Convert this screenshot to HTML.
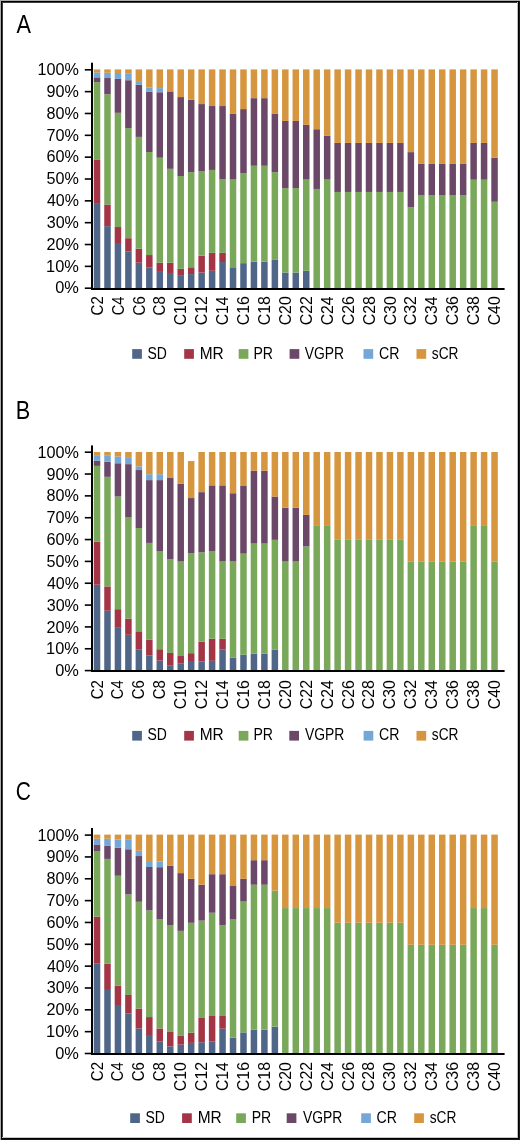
<!DOCTYPE html>
<html><head><meta charset="utf-8"><title>Response by cycle</title>
<style>
html,body{margin:0;padding:0;background:#fff;}
body{width:520px;height:1140px;overflow:hidden;position:relative;}
svg{display:block;position:absolute;left:0;top:0;will-change:transform;}
text{font-family:"Liberation Sans", sans-serif;fill:#000;}
.yl{font-size:17px;}
.xl{font-size:16.8px;}
.lg{font-size:16px;}
.pl{font-size:25.2px;}
</style></head><body>
<svg width="520" height="1140" viewBox="0 0 520 1140">
<rect x="0" y="0" width="520" height="1140" fill="#fff"/>
<rect x="0" y="0" width="520" height="1" fill="#acacac"/>
<rect x="0" y="0" width="1" height="1140" fill="#acacac"/>
<rect x="2" y="2" width="515" height="1" fill="#3c3c3c"/>
<rect x="2" y="2" width="1" height="1135" fill="#3c3c3c"/>
<rect x="517" y="2" width="1" height="1136" fill="#bebebe"/>
<rect x="2" y="1137" width="516" height="1" fill="#c8c8c8"/>
<rect x="1" y="1" width="519" height="1" fill="#000"/>
<rect x="1" y="1" width="1" height="1139" fill="#000"/>
<rect x="518" y="1" width="1" height="1138" fill="#000"/>
<rect x="519" y="1" width="1" height="1139" fill="#1a1a1a"/>
<rect x="1" y="1138" width="518" height="1" fill="#000"/>
<rect x="1" y="1139" width="518" height="1" fill="#161616"/>
<text x="16.49" y="33.1" class="pl" textLength="14.46" lengthAdjust="spacingAndGlyphs">A</text>
<text x="15.67" y="418.7" class="pl" textLength="14.46" lengthAdjust="spacingAndGlyphs">B</text>
<text x="15.86" y="800.1" class="pl" textLength="15.13" lengthAdjust="spacingAndGlyphs">C</text>
<rect x="93.78" y="203.84" width="6.5" height="86.16" fill="#4f6689"/>
<rect x="93.78" y="159.43" width="6.5" height="44.42" fill="#a33546"/>
<rect x="93.78" y="82.19" width="6.5" height="77.24" fill="#79a85b"/>
<rect x="93.78" y="77.38" width="6.5" height="4.81" fill="#6b4868"/>
<rect x="93.78" y="72.34" width="6.5" height="5.03" fill="#74a7d6"/>
<rect x="93.78" y="69.4" width="6.5" height="2.94" fill="#d6963f"/>
<rect x="104.24" y="226.16" width="6.5" height="63.84" fill="#4f6689"/>
<rect x="104.24" y="204.5" width="6.5" height="21.66" fill="#a33546"/>
<rect x="104.24" y="94.22" width="6.5" height="110.28" fill="#79a85b"/>
<rect x="104.24" y="78.03" width="6.5" height="16.19" fill="#6b4868"/>
<rect x="104.24" y="72.78" width="6.5" height="5.25" fill="#74a7d6"/>
<rect x="104.24" y="69.4" width="6.5" height="3.38" fill="#d6963f"/>
<rect x="114.7" y="243.01" width="6.5" height="46.99" fill="#4f6689"/>
<rect x="114.7" y="227.04" width="6.5" height="15.97" fill="#a33546"/>
<rect x="114.7" y="112.82" width="6.5" height="114.21" fill="#79a85b"/>
<rect x="114.7" y="78.91" width="6.5" height="33.91" fill="#6b4868"/>
<rect x="114.7" y="73" width="6.5" height="5.91" fill="#74a7d6"/>
<rect x="114.7" y="69.4" width="6.5" height="3.6" fill="#d6963f"/>
<rect x="125.16" y="251.32" width="6.5" height="38.68" fill="#4f6689"/>
<rect x="125.16" y="238.19" width="6.5" height="13.13" fill="#a33546"/>
<rect x="125.16" y="128.14" width="6.5" height="110.06" fill="#79a85b"/>
<rect x="125.16" y="80.22" width="6.5" height="47.92" fill="#6b4868"/>
<rect x="125.16" y="73.22" width="6.5" height="7" fill="#74a7d6"/>
<rect x="125.16" y="69.4" width="6.5" height="3.82" fill="#d6963f"/>
<rect x="135.62" y="262.7" width="6.5" height="27.3" fill="#4f6689"/>
<rect x="135.62" y="248.7" width="6.5" height="14" fill="#a33546"/>
<rect x="135.62" y="136.89" width="6.5" height="111.81" fill="#79a85b"/>
<rect x="135.62" y="84.82" width="6.5" height="52.07" fill="#6b4868"/>
<rect x="135.62" y="81.1" width="6.5" height="3.72" fill="#74a7d6"/>
<rect x="135.62" y="69.4" width="6.5" height="11.7" fill="#d6963f"/>
<rect x="146.08" y="267.3" width="6.5" height="22.7" fill="#4f6689"/>
<rect x="146.08" y="255.04" width="6.5" height="12.25" fill="#a33546"/>
<rect x="146.08" y="151.99" width="6.5" height="103.05" fill="#79a85b"/>
<rect x="146.08" y="91.82" width="6.5" height="60.17" fill="#6b4868"/>
<rect x="146.08" y="87.44" width="6.5" height="4.38" fill="#74a7d6"/>
<rect x="146.08" y="69.4" width="6.5" height="18.04" fill="#d6963f"/>
<rect x="156.54" y="271.89" width="6.5" height="18.11" fill="#4f6689"/>
<rect x="156.54" y="262.7" width="6.5" height="9.19" fill="#a33546"/>
<rect x="156.54" y="157.68" width="6.5" height="105.02" fill="#79a85b"/>
<rect x="156.54" y="92.26" width="6.5" height="65.42" fill="#6b4868"/>
<rect x="156.54" y="88.1" width="6.5" height="4.16" fill="#74a7d6"/>
<rect x="156.54" y="69.4" width="6.5" height="18.7" fill="#d6963f"/>
<rect x="167.01" y="272.98" width="6.5" height="17.02" fill="#4f6689"/>
<rect x="167.01" y="262.7" width="6.5" height="10.28" fill="#a33546"/>
<rect x="167.01" y="168.84" width="6.5" height="93.87" fill="#79a85b"/>
<rect x="167.01" y="91.38" width="6.5" height="77.46" fill="#6b4868"/>
<rect x="167.01" y="69.4" width="6.5" height="21.98" fill="#d6963f"/>
<rect x="177.47" y="275.83" width="6.5" height="14.17" fill="#4f6689"/>
<rect x="177.47" y="268.83" width="6.5" height="7" fill="#a33546"/>
<rect x="177.47" y="176.06" width="6.5" height="92.77" fill="#79a85b"/>
<rect x="177.47" y="97.07" width="6.5" height="78.99" fill="#6b4868"/>
<rect x="177.47" y="69.4" width="6.5" height="27.67" fill="#d6963f"/>
<rect x="187.93" y="274.08" width="6.5" height="15.92" fill="#4f6689"/>
<rect x="187.93" y="267.3" width="6.5" height="6.78" fill="#a33546"/>
<rect x="187.93" y="172.12" width="6.5" height="95.18" fill="#79a85b"/>
<rect x="187.93" y="99.69" width="6.5" height="72.42" fill="#6b4868"/>
<rect x="187.93" y="69.4" width="6.5" height="30.29" fill="#d6963f"/>
<rect x="198.39" y="272.55" width="6.5" height="17.45" fill="#4f6689"/>
<rect x="198.39" y="255.7" width="6.5" height="16.85" fill="#a33546"/>
<rect x="198.39" y="171.02" width="6.5" height="84.68" fill="#79a85b"/>
<rect x="198.39" y="104.07" width="6.5" height="66.95" fill="#6b4868"/>
<rect x="198.39" y="69.4" width="6.5" height="34.67" fill="#d6963f"/>
<rect x="208.85" y="270.8" width="6.5" height="19.2" fill="#4f6689"/>
<rect x="208.85" y="252.85" width="6.5" height="17.94" fill="#a33546"/>
<rect x="208.85" y="169.93" width="6.5" height="82.93" fill="#79a85b"/>
<rect x="208.85" y="106.04" width="6.5" height="63.89" fill="#6b4868"/>
<rect x="208.85" y="69.4" width="6.5" height="36.64" fill="#d6963f"/>
<rect x="219.31" y="262.04" width="6.5" height="27.96" fill="#4f6689"/>
<rect x="219.31" y="252.85" width="6.5" height="9.19" fill="#a33546"/>
<rect x="219.31" y="179.34" width="6.5" height="73.52" fill="#79a85b"/>
<rect x="219.31" y="106.04" width="6.5" height="73.3" fill="#6b4868"/>
<rect x="219.31" y="69.4" width="6.5" height="36.64" fill="#d6963f"/>
<rect x="229.77" y="267.3" width="6.5" height="22.7" fill="#4f6689"/>
<rect x="229.77" y="179.56" width="6.5" height="87.74" fill="#79a85b"/>
<rect x="229.77" y="113.92" width="6.5" height="65.64" fill="#6b4868"/>
<rect x="229.77" y="69.4" width="6.5" height="44.52" fill="#d6963f"/>
<rect x="240.23" y="263.14" width="6.5" height="26.86" fill="#4f6689"/>
<rect x="240.23" y="173.21" width="6.5" height="89.93" fill="#79a85b"/>
<rect x="240.23" y="109.1" width="6.5" height="64.11" fill="#6b4868"/>
<rect x="240.23" y="69.4" width="6.5" height="39.7" fill="#d6963f"/>
<rect x="250.69" y="261.61" width="6.5" height="28.39" fill="#4f6689"/>
<rect x="250.69" y="165.77" width="6.5" height="95.83" fill="#79a85b"/>
<rect x="250.69" y="98.16" width="6.5" height="67.61" fill="#6b4868"/>
<rect x="250.69" y="69.4" width="6.5" height="28.76" fill="#d6963f"/>
<rect x="261.15" y="261.61" width="6.5" height="28.39" fill="#4f6689"/>
<rect x="261.15" y="165.77" width="6.5" height="95.83" fill="#79a85b"/>
<rect x="261.15" y="98.16" width="6.5" height="67.61" fill="#6b4868"/>
<rect x="261.15" y="69.4" width="6.5" height="28.76" fill="#d6963f"/>
<rect x="271.61" y="259.86" width="6.5" height="30.14" fill="#4f6689"/>
<rect x="271.61" y="172.12" width="6.5" height="87.74" fill="#79a85b"/>
<rect x="271.61" y="113.92" width="6.5" height="58.2" fill="#6b4868"/>
<rect x="271.61" y="69.4" width="6.5" height="44.52" fill="#d6963f"/>
<rect x="282.07" y="272.55" width="6.5" height="17.45" fill="#4f6689"/>
<rect x="282.07" y="188.09" width="6.5" height="84.46" fill="#79a85b"/>
<rect x="282.07" y="120.92" width="6.5" height="67.17" fill="#6b4868"/>
<rect x="282.07" y="69.4" width="6.5" height="51.52" fill="#d6963f"/>
<rect x="292.54" y="272.55" width="6.5" height="17.45" fill="#4f6689"/>
<rect x="292.54" y="188.09" width="6.5" height="84.46" fill="#79a85b"/>
<rect x="292.54" y="120.92" width="6.5" height="67.17" fill="#6b4868"/>
<rect x="292.54" y="69.4" width="6.5" height="51.52" fill="#d6963f"/>
<rect x="303" y="270.8" width="6.5" height="19.2" fill="#4f6689"/>
<rect x="303" y="179.56" width="6.5" height="91.24" fill="#79a85b"/>
<rect x="303" y="124.86" width="6.5" height="54.7" fill="#6b4868"/>
<rect x="303" y="69.4" width="6.5" height="55.46" fill="#d6963f"/>
<rect x="313.46" y="188.96" width="6.5" height="101.04" fill="#79a85b"/>
<rect x="313.46" y="129.23" width="6.5" height="59.73" fill="#6b4868"/>
<rect x="313.46" y="69.4" width="6.5" height="59.83" fill="#d6963f"/>
<rect x="323.92" y="179.56" width="6.5" height="110.44" fill="#79a85b"/>
<rect x="323.92" y="135.58" width="6.5" height="43.98" fill="#6b4868"/>
<rect x="323.92" y="69.4" width="6.5" height="66.18" fill="#d6963f"/>
<rect x="334.38" y="191.96" width="6.5" height="98.04" fill="#79a85b"/>
<rect x="334.38" y="142.93" width="6.5" height="49.02" fill="#6b4868"/>
<rect x="334.38" y="69.4" width="6.5" height="73.53" fill="#d6963f"/>
<rect x="344.84" y="191.96" width="6.5" height="98.04" fill="#79a85b"/>
<rect x="344.84" y="142.93" width="6.5" height="49.02" fill="#6b4868"/>
<rect x="344.84" y="69.4" width="6.5" height="73.53" fill="#d6963f"/>
<rect x="355.3" y="191.96" width="6.5" height="98.04" fill="#79a85b"/>
<rect x="355.3" y="142.93" width="6.5" height="49.02" fill="#6b4868"/>
<rect x="355.3" y="69.4" width="6.5" height="73.53" fill="#d6963f"/>
<rect x="365.76" y="191.96" width="6.5" height="98.04" fill="#79a85b"/>
<rect x="365.76" y="142.93" width="6.5" height="49.02" fill="#6b4868"/>
<rect x="365.76" y="69.4" width="6.5" height="73.53" fill="#d6963f"/>
<rect x="376.22" y="191.96" width="6.5" height="98.04" fill="#79a85b"/>
<rect x="376.22" y="142.93" width="6.5" height="49.02" fill="#6b4868"/>
<rect x="376.22" y="69.4" width="6.5" height="73.53" fill="#d6963f"/>
<rect x="386.68" y="191.96" width="6.5" height="98.04" fill="#79a85b"/>
<rect x="386.68" y="142.93" width="6.5" height="49.02" fill="#6b4868"/>
<rect x="386.68" y="69.4" width="6.5" height="73.53" fill="#d6963f"/>
<rect x="397.14" y="191.96" width="6.5" height="98.04" fill="#79a85b"/>
<rect x="397.14" y="142.93" width="6.5" height="49.02" fill="#6b4868"/>
<rect x="397.14" y="69.4" width="6.5" height="73.53" fill="#d6963f"/>
<rect x="407.6" y="207.27" width="6.5" height="82.73" fill="#79a85b"/>
<rect x="407.6" y="152.12" width="6.5" height="55.15" fill="#6b4868"/>
<rect x="407.6" y="69.4" width="6.5" height="82.72" fill="#d6963f"/>
<rect x="418.06" y="195.46" width="6.5" height="94.54" fill="#79a85b"/>
<rect x="418.06" y="163.94" width="6.5" height="31.51" fill="#6b4868"/>
<rect x="418.06" y="69.4" width="6.5" height="94.54" fill="#d6963f"/>
<rect x="428.53" y="195.46" width="6.5" height="94.54" fill="#79a85b"/>
<rect x="428.53" y="163.94" width="6.5" height="31.51" fill="#6b4868"/>
<rect x="428.53" y="69.4" width="6.5" height="94.54" fill="#d6963f"/>
<rect x="438.99" y="195.46" width="6.5" height="94.54" fill="#79a85b"/>
<rect x="438.99" y="163.94" width="6.5" height="31.51" fill="#6b4868"/>
<rect x="438.99" y="69.4" width="6.5" height="94.54" fill="#d6963f"/>
<rect x="449.45" y="195.46" width="6.5" height="94.54" fill="#79a85b"/>
<rect x="449.45" y="163.94" width="6.5" height="31.51" fill="#6b4868"/>
<rect x="449.45" y="69.4" width="6.5" height="94.54" fill="#d6963f"/>
<rect x="459.91" y="195.46" width="6.5" height="94.54" fill="#79a85b"/>
<rect x="459.91" y="163.94" width="6.5" height="31.51" fill="#6b4868"/>
<rect x="459.91" y="69.4" width="6.5" height="94.54" fill="#d6963f"/>
<rect x="470.37" y="179.7" width="6.5" height="110.3" fill="#79a85b"/>
<rect x="470.37" y="142.93" width="6.5" height="36.77" fill="#6b4868"/>
<rect x="470.37" y="69.4" width="6.5" height="73.53" fill="#d6963f"/>
<rect x="480.83" y="179.7" width="6.5" height="110.3" fill="#79a85b"/>
<rect x="480.83" y="142.93" width="6.5" height="36.77" fill="#6b4868"/>
<rect x="480.83" y="69.4" width="6.5" height="73.53" fill="#d6963f"/>
<rect x="491.29" y="201.76" width="6.5" height="88.24" fill="#79a85b"/>
<rect x="491.29" y="157.64" width="6.5" height="44.12" fill="#6b4868"/>
<rect x="491.29" y="69.4" width="6.5" height="88.24" fill="#d6963f"/>
<rect x="91" y="62.7" width="2" height="227.3" fill="#000"/>
<rect x="91" y="288" width="413.6" height="2" fill="#000"/>
<rect x="84.8" y="287.4" width="6.5" height="1.6" fill="#000"/>
<text x="55.2" y="293.4" class="yl" textLength="23.66" lengthAdjust="spacingAndGlyphs">0%</text>
<rect x="84.8" y="265.56" width="6.5" height="1.6" fill="#000"/>
<text x="46.09" y="271.56" class="yl" textLength="32.84" lengthAdjust="spacingAndGlyphs">10%</text>
<rect x="84.8" y="243.72" width="6.5" height="1.6" fill="#000"/>
<text x="46.47" y="249.72" class="yl" textLength="32.46" lengthAdjust="spacingAndGlyphs">20%</text>
<rect x="84.8" y="221.88" width="6.5" height="1.6" fill="#000"/>
<text x="46.71" y="227.88" class="yl" textLength="32.21" lengthAdjust="spacingAndGlyphs">30%</text>
<rect x="84.8" y="200.04" width="6.5" height="1.6" fill="#000"/>
<text x="46.95" y="206.04" class="yl" textLength="31.97" lengthAdjust="spacingAndGlyphs">40%</text>
<rect x="84.8" y="178.2" width="6.5" height="1.6" fill="#000"/>
<text x="46.59" y="184.2" class="yl" textLength="32.34" lengthAdjust="spacingAndGlyphs">50%</text>
<rect x="84.8" y="156.36" width="6.5" height="1.6" fill="#000"/>
<text x="46.47" y="162.36" class="yl" textLength="32.46" lengthAdjust="spacingAndGlyphs">60%</text>
<rect x="84.8" y="134.52" width="6.5" height="1.6" fill="#000"/>
<text x="46.47" y="140.52" class="yl" textLength="32.46" lengthAdjust="spacingAndGlyphs">70%</text>
<rect x="84.8" y="112.68" width="6.5" height="1.6" fill="#000"/>
<text x="46.59" y="118.68" class="yl" textLength="32.34" lengthAdjust="spacingAndGlyphs">80%</text>
<rect x="84.8" y="90.84" width="6.5" height="1.6" fill="#000"/>
<text x="46.59" y="96.84" class="yl" textLength="32.34" lengthAdjust="spacingAndGlyphs">90%</text>
<rect x="84.8" y="69" width="6.5" height="1.6" fill="#000"/>
<text x="37.51" y="75" class="yl" textLength="41.37" lengthAdjust="spacingAndGlyphs">100%</text>
<text transform="translate(102.66,315.38) rotate(-90)" class="xl" textLength="19.23" lengthAdjust="spacingAndGlyphs">C2</text>
<text transform="translate(123.58,315.37) rotate(-90)" class="xl" textLength="18.87" lengthAdjust="spacingAndGlyphs">C4</text>
<text transform="translate(144.5,315.38) rotate(-90)" class="xl" textLength="19.11" lengthAdjust="spacingAndGlyphs">C6</text>
<text transform="translate(165.42,315.38) rotate(-90)" class="xl" textLength="19.11" lengthAdjust="spacingAndGlyphs">C8</text>
<text transform="translate(186.34,325.33) rotate(-90)" class="xl" textLength="29.06" lengthAdjust="spacingAndGlyphs">C10</text>
<text transform="translate(207.26,325.33) rotate(-90)" class="xl" textLength="29.31" lengthAdjust="spacingAndGlyphs">C12</text>
<text transform="translate(228.18,325.32) rotate(-90)" class="xl" textLength="28.94" lengthAdjust="spacingAndGlyphs">C14</text>
<text transform="translate(249.11,325.33) rotate(-90)" class="xl" textLength="29.18" lengthAdjust="spacingAndGlyphs">C16</text>
<text transform="translate(270.03,325.33) rotate(-90)" class="xl" textLength="29.18" lengthAdjust="spacingAndGlyphs">C18</text>
<text transform="translate(290.95,325.33) rotate(-90)" class="xl" textLength="29.06" lengthAdjust="spacingAndGlyphs">C20</text>
<text transform="translate(311.87,325.33) rotate(-90)" class="xl" textLength="29.31" lengthAdjust="spacingAndGlyphs">C22</text>
<text transform="translate(332.79,325.32) rotate(-90)" class="xl" textLength="28.94" lengthAdjust="spacingAndGlyphs">C24</text>
<text transform="translate(353.71,325.33) rotate(-90)" class="xl" textLength="29.18" lengthAdjust="spacingAndGlyphs">C26</text>
<text transform="translate(374.64,325.33) rotate(-90)" class="xl" textLength="29.18" lengthAdjust="spacingAndGlyphs">C28</text>
<text transform="translate(395.56,325.33) rotate(-90)" class="xl" textLength="29.06" lengthAdjust="spacingAndGlyphs">C30</text>
<text transform="translate(416.48,325.33) rotate(-90)" class="xl" textLength="29.31" lengthAdjust="spacingAndGlyphs">C32</text>
<text transform="translate(437.4,325.32) rotate(-90)" class="xl" textLength="28.94" lengthAdjust="spacingAndGlyphs">C34</text>
<text transform="translate(458.32,325.33) rotate(-90)" class="xl" textLength="29.18" lengthAdjust="spacingAndGlyphs">C36</text>
<text transform="translate(479.24,325.33) rotate(-90)" class="xl" textLength="29.18" lengthAdjust="spacingAndGlyphs">C38</text>
<text transform="translate(500.17,325.33) rotate(-90)" class="xl" textLength="29.06" lengthAdjust="spacingAndGlyphs">C40</text>
<rect x="132.2" y="349.1" width="9.7" height="9.7" fill="#4f6689"/>
<text x="147.55" y="358.6" class="lg" textLength="19.39" lengthAdjust="spacingAndGlyphs">SD</text>
<rect x="184.2" y="349.1" width="9.7" height="9.7" fill="#a33546"/>
<text x="199.67" y="358.6" class="lg" textLength="24.07" lengthAdjust="spacingAndGlyphs">MR</text>
<rect x="238.7" y="349.1" width="9.7" height="9.7" fill="#79a85b"/>
<text x="253.39" y="358.6" class="lg" textLength="19.56" lengthAdjust="spacingAndGlyphs">PR</text>
<rect x="289.6" y="349.1" width="9.7" height="9.7" fill="#6b4868"/>
<text x="304.69" y="358.6" class="lg" textLength="39.34" lengthAdjust="spacingAndGlyphs">VGPR</text>
<rect x="363.5" y="349.1" width="9.7" height="9.7" fill="#74a7d6"/>
<text x="379.03" y="358.6" class="lg" textLength="20.42" lengthAdjust="spacingAndGlyphs">CR</text>
<rect x="416.5" y="349.1" width="9.7" height="9.7" fill="#d6963f"/>
<text x="431.87" y="358.6" class="lg" textLength="26.66" lengthAdjust="spacingAndGlyphs">sCR</text>
<rect x="93.78" y="584.69" width="6.5" height="87.31" fill="#4f6689"/>
<rect x="93.78" y="541.81" width="6.5" height="42.88" fill="#a33546"/>
<rect x="93.78" y="465.88" width="6.5" height="75.92" fill="#79a85b"/>
<rect x="93.78" y="460.63" width="6.5" height="5.25" fill="#6b4868"/>
<rect x="93.78" y="455.16" width="6.5" height="5.47" fill="#74a7d6"/>
<rect x="93.78" y="452" width="6.5" height="3.16" fill="#d6963f"/>
<rect x="104.24" y="610.73" width="6.5" height="61.27" fill="#4f6689"/>
<rect x="104.24" y="586.44" width="6.5" height="24.29" fill="#a33546"/>
<rect x="104.24" y="476.82" width="6.5" height="109.62" fill="#79a85b"/>
<rect x="104.24" y="461.73" width="6.5" height="15.1" fill="#6b4868"/>
<rect x="104.24" y="455.82" width="6.5" height="5.91" fill="#74a7d6"/>
<rect x="104.24" y="452" width="6.5" height="3.82" fill="#d6963f"/>
<rect x="114.7" y="627.8" width="6.5" height="44.2" fill="#4f6689"/>
<rect x="114.7" y="609.2" width="6.5" height="18.6" fill="#a33546"/>
<rect x="114.7" y="496.52" width="6.5" height="112.68" fill="#79a85b"/>
<rect x="114.7" y="463.26" width="6.5" height="33.26" fill="#6b4868"/>
<rect x="114.7" y="456.48" width="6.5" height="6.78" fill="#74a7d6"/>
<rect x="114.7" y="452" width="6.5" height="4.48" fill="#d6963f"/>
<rect x="125.16" y="634.8" width="6.5" height="37.2" fill="#4f6689"/>
<rect x="125.16" y="618.61" width="6.5" height="16.19" fill="#a33546"/>
<rect x="125.16" y="517.52" width="6.5" height="101.09" fill="#79a85b"/>
<rect x="125.16" y="464.13" width="6.5" height="53.39" fill="#6b4868"/>
<rect x="125.16" y="457.13" width="6.5" height="7" fill="#74a7d6"/>
<rect x="125.16" y="452" width="6.5" height="5.13" fill="#d6963f"/>
<rect x="135.62" y="649.24" width="6.5" height="22.76" fill="#4f6689"/>
<rect x="135.62" y="631.3" width="6.5" height="17.94" fill="#a33546"/>
<rect x="135.62" y="528.02" width="6.5" height="103.27" fill="#79a85b"/>
<rect x="135.62" y="470.04" width="6.5" height="57.98" fill="#6b4868"/>
<rect x="135.62" y="466.32" width="6.5" height="3.72" fill="#74a7d6"/>
<rect x="135.62" y="452" width="6.5" height="14.32" fill="#d6963f"/>
<rect x="146.08" y="655.58" width="6.5" height="16.42" fill="#4f6689"/>
<rect x="146.08" y="639.83" width="6.5" height="15.75" fill="#a33546"/>
<rect x="146.08" y="542.9" width="6.5" height="96.93" fill="#79a85b"/>
<rect x="146.08" y="480.11" width="6.5" height="62.8" fill="#6b4868"/>
<rect x="146.08" y="474.2" width="6.5" height="5.91" fill="#74a7d6"/>
<rect x="146.08" y="452" width="6.5" height="22.2" fill="#d6963f"/>
<rect x="156.54" y="660.62" width="6.5" height="11.38" fill="#4f6689"/>
<rect x="156.54" y="649.24" width="6.5" height="11.38" fill="#a33546"/>
<rect x="156.54" y="551" width="6.5" height="98.24" fill="#79a85b"/>
<rect x="156.54" y="480.11" width="6.5" height="70.89" fill="#6b4868"/>
<rect x="156.54" y="474.2" width="6.5" height="5.91" fill="#74a7d6"/>
<rect x="156.54" y="452" width="6.5" height="22.2" fill="#d6963f"/>
<rect x="167.01" y="665.21" width="6.5" height="6.79" fill="#4f6689"/>
<rect x="167.01" y="652.96" width="6.5" height="12.25" fill="#a33546"/>
<rect x="167.01" y="559.09" width="6.5" height="93.87" fill="#79a85b"/>
<rect x="167.01" y="477.48" width="6.5" height="81.61" fill="#6b4868"/>
<rect x="167.01" y="452" width="6.5" height="25.48" fill="#d6963f"/>
<rect x="177.47" y="663.68" width="6.5" height="8.32" fill="#4f6689"/>
<rect x="177.47" y="656.02" width="6.5" height="7.66" fill="#a33546"/>
<rect x="177.47" y="561.5" width="6.5" height="94.52" fill="#79a85b"/>
<rect x="177.47" y="483.83" width="6.5" height="77.67" fill="#6b4868"/>
<rect x="177.47" y="452" width="6.5" height="31.83" fill="#d6963f"/>
<rect x="187.93" y="661.93" width="6.5" height="10.07" fill="#4f6689"/>
<rect x="187.93" y="653.18" width="6.5" height="8.75" fill="#a33546"/>
<rect x="187.93" y="553.19" width="6.5" height="99.99" fill="#79a85b"/>
<rect x="187.93" y="498.05" width="6.5" height="55.14" fill="#6b4868"/>
<rect x="187.93" y="461.07" width="6.5" height="36.98" fill="#d6963f"/>
<rect x="198.39" y="661.49" width="6.5" height="10.51" fill="#4f6689"/>
<rect x="198.39" y="641.58" width="6.5" height="19.91" fill="#a33546"/>
<rect x="198.39" y="552.31" width="6.5" height="89.27" fill="#79a85b"/>
<rect x="198.39" y="492.14" width="6.5" height="60.17" fill="#6b4868"/>
<rect x="198.39" y="452" width="6.5" height="40.14" fill="#d6963f"/>
<rect x="208.85" y="660.84" width="6.5" height="11.16" fill="#4f6689"/>
<rect x="208.85" y="638.74" width="6.5" height="22.1" fill="#a33546"/>
<rect x="208.85" y="551" width="6.5" height="87.74" fill="#79a85b"/>
<rect x="208.85" y="485.36" width="6.5" height="65.64" fill="#6b4868"/>
<rect x="208.85" y="452" width="6.5" height="33.36" fill="#d6963f"/>
<rect x="219.31" y="649.68" width="6.5" height="22.32" fill="#4f6689"/>
<rect x="219.31" y="638.74" width="6.5" height="10.94" fill="#a33546"/>
<rect x="219.31" y="561.5" width="6.5" height="77.24" fill="#79a85b"/>
<rect x="219.31" y="485.36" width="6.5" height="76.14" fill="#6b4868"/>
<rect x="219.31" y="452" width="6.5" height="33.36" fill="#d6963f"/>
<rect x="229.77" y="657.77" width="6.5" height="14.23" fill="#4f6689"/>
<rect x="229.77" y="561.5" width="6.5" height="96.27" fill="#79a85b"/>
<rect x="229.77" y="493.23" width="6.5" height="68.27" fill="#6b4868"/>
<rect x="229.77" y="452" width="6.5" height="41.23" fill="#d6963f"/>
<rect x="240.23" y="654.71" width="6.5" height="17.29" fill="#4f6689"/>
<rect x="240.23" y="553.62" width="6.5" height="101.09" fill="#79a85b"/>
<rect x="240.23" y="486.01" width="6.5" height="67.61" fill="#6b4868"/>
<rect x="240.23" y="452" width="6.5" height="34.01" fill="#d6963f"/>
<rect x="250.69" y="653.61" width="6.5" height="18.39" fill="#4f6689"/>
<rect x="250.69" y="543.56" width="6.5" height="110.06" fill="#79a85b"/>
<rect x="250.69" y="470.7" width="6.5" height="72.86" fill="#6b4868"/>
<rect x="250.69" y="452" width="6.5" height="18.7" fill="#d6963f"/>
<rect x="261.15" y="653.61" width="6.5" height="18.39" fill="#4f6689"/>
<rect x="261.15" y="543.56" width="6.5" height="110.06" fill="#79a85b"/>
<rect x="261.15" y="470.7" width="6.5" height="72.86" fill="#6b4868"/>
<rect x="261.15" y="452" width="6.5" height="18.7" fill="#d6963f"/>
<rect x="271.61" y="649.68" width="6.5" height="22.32" fill="#4f6689"/>
<rect x="271.61" y="539.84" width="6.5" height="109.84" fill="#79a85b"/>
<rect x="271.61" y="496.52" width="6.5" height="43.32" fill="#6b4868"/>
<rect x="271.61" y="452" width="6.5" height="44.52" fill="#d6963f"/>
<rect x="282.07" y="561.5" width="6.5" height="110.5" fill="#79a85b"/>
<rect x="282.07" y="507.68" width="6.5" height="53.82" fill="#6b4868"/>
<rect x="282.07" y="452" width="6.5" height="55.68" fill="#d6963f"/>
<rect x="292.54" y="561.5" width="6.5" height="110.5" fill="#79a85b"/>
<rect x="292.54" y="507.68" width="6.5" height="53.82" fill="#6b4868"/>
<rect x="292.54" y="452" width="6.5" height="55.68" fill="#d6963f"/>
<rect x="303" y="546.4" width="6.5" height="125.6" fill="#79a85b"/>
<rect x="303" y="514.9" width="6.5" height="31.51" fill="#6b4868"/>
<rect x="303" y="452" width="6.5" height="62.9" fill="#d6963f"/>
<rect x="313.46" y="525.2" width="6.5" height="146.8" fill="#79a85b"/>
<rect x="313.46" y="452" width="6.5" height="73.2" fill="#d6963f"/>
<rect x="323.92" y="525.2" width="6.5" height="146.8" fill="#79a85b"/>
<rect x="323.92" y="452" width="6.5" height="73.2" fill="#d6963f"/>
<rect x="334.38" y="539.84" width="6.5" height="132.16" fill="#79a85b"/>
<rect x="334.38" y="452" width="6.5" height="87.84" fill="#d6963f"/>
<rect x="344.84" y="539.84" width="6.5" height="132.16" fill="#79a85b"/>
<rect x="344.84" y="452" width="6.5" height="87.84" fill="#d6963f"/>
<rect x="355.3" y="539.84" width="6.5" height="132.16" fill="#79a85b"/>
<rect x="355.3" y="452" width="6.5" height="87.84" fill="#d6963f"/>
<rect x="365.76" y="539.84" width="6.5" height="132.16" fill="#79a85b"/>
<rect x="365.76" y="452" width="6.5" height="87.84" fill="#d6963f"/>
<rect x="376.22" y="539.84" width="6.5" height="132.16" fill="#79a85b"/>
<rect x="376.22" y="452" width="6.5" height="87.84" fill="#d6963f"/>
<rect x="386.68" y="539.84" width="6.5" height="132.16" fill="#79a85b"/>
<rect x="386.68" y="452" width="6.5" height="87.84" fill="#d6963f"/>
<rect x="397.14" y="539.84" width="6.5" height="132.16" fill="#79a85b"/>
<rect x="397.14" y="452" width="6.5" height="87.84" fill="#d6963f"/>
<rect x="407.6" y="561.8" width="6.5" height="110.2" fill="#79a85b"/>
<rect x="407.6" y="452" width="6.5" height="109.8" fill="#d6963f"/>
<rect x="418.06" y="561.8" width="6.5" height="110.2" fill="#79a85b"/>
<rect x="418.06" y="452" width="6.5" height="109.8" fill="#d6963f"/>
<rect x="428.53" y="561.8" width="6.5" height="110.2" fill="#79a85b"/>
<rect x="428.53" y="452" width="6.5" height="109.8" fill="#d6963f"/>
<rect x="438.99" y="561.8" width="6.5" height="110.2" fill="#79a85b"/>
<rect x="438.99" y="452" width="6.5" height="109.8" fill="#d6963f"/>
<rect x="449.45" y="561.8" width="6.5" height="110.2" fill="#79a85b"/>
<rect x="449.45" y="452" width="6.5" height="109.8" fill="#d6963f"/>
<rect x="459.91" y="561.8" width="6.5" height="110.2" fill="#79a85b"/>
<rect x="459.91" y="452" width="6.5" height="109.8" fill="#d6963f"/>
<rect x="470.37" y="525.2" width="6.5" height="146.8" fill="#79a85b"/>
<rect x="470.37" y="452" width="6.5" height="73.2" fill="#d6963f"/>
<rect x="480.83" y="525.2" width="6.5" height="146.8" fill="#79a85b"/>
<rect x="480.83" y="452" width="6.5" height="73.2" fill="#d6963f"/>
<rect x="491.29" y="561.8" width="6.5" height="110.2" fill="#79a85b"/>
<rect x="491.29" y="452" width="6.5" height="109.8" fill="#d6963f"/>
<rect x="91" y="445.4" width="2" height="226.6" fill="#000"/>
<rect x="91" y="670" width="413.6" height="2" fill="#000"/>
<rect x="84.8" y="669.8" width="6.5" height="1.6" fill="#000"/>
<text x="55.2" y="676.2" class="yl" textLength="23.66" lengthAdjust="spacingAndGlyphs">0%</text>
<rect x="84.8" y="647.96" width="6.5" height="1.6" fill="#000"/>
<text x="46.09" y="654.36" class="yl" textLength="32.84" lengthAdjust="spacingAndGlyphs">10%</text>
<rect x="84.8" y="626.12" width="6.5" height="1.6" fill="#000"/>
<text x="46.47" y="632.52" class="yl" textLength="32.46" lengthAdjust="spacingAndGlyphs">20%</text>
<rect x="84.8" y="604.28" width="6.5" height="1.6" fill="#000"/>
<text x="46.71" y="610.68" class="yl" textLength="32.21" lengthAdjust="spacingAndGlyphs">30%</text>
<rect x="84.8" y="582.44" width="6.5" height="1.6" fill="#000"/>
<text x="46.95" y="588.84" class="yl" textLength="31.97" lengthAdjust="spacingAndGlyphs">40%</text>
<rect x="84.8" y="560.6" width="6.5" height="1.6" fill="#000"/>
<text x="46.59" y="567" class="yl" textLength="32.34" lengthAdjust="spacingAndGlyphs">50%</text>
<rect x="84.8" y="538.76" width="6.5" height="1.6" fill="#000"/>
<text x="46.47" y="545.16" class="yl" textLength="32.46" lengthAdjust="spacingAndGlyphs">60%</text>
<rect x="84.8" y="516.92" width="6.5" height="1.6" fill="#000"/>
<text x="46.47" y="523.32" class="yl" textLength="32.46" lengthAdjust="spacingAndGlyphs">70%</text>
<rect x="84.8" y="495.08" width="6.5" height="1.6" fill="#000"/>
<text x="46.59" y="501.48" class="yl" textLength="32.34" lengthAdjust="spacingAndGlyphs">80%</text>
<rect x="84.8" y="473.24" width="6.5" height="1.6" fill="#000"/>
<text x="46.59" y="479.64" class="yl" textLength="32.34" lengthAdjust="spacingAndGlyphs">90%</text>
<rect x="84.8" y="451.4" width="6.5" height="1.6" fill="#000"/>
<text x="37.51" y="457.8" class="yl" textLength="41.37" lengthAdjust="spacingAndGlyphs">100%</text>
<text transform="translate(102.5,699.28) rotate(-90)" class="xl" textLength="19.23" lengthAdjust="spacingAndGlyphs">C2</text>
<text transform="translate(123.43,699.27) rotate(-90)" class="xl" textLength="18.87" lengthAdjust="spacingAndGlyphs">C4</text>
<text transform="translate(144.35,699.28) rotate(-90)" class="xl" textLength="19.11" lengthAdjust="spacingAndGlyphs">C6</text>
<text transform="translate(165.27,699.28) rotate(-90)" class="xl" textLength="19.11" lengthAdjust="spacingAndGlyphs">C8</text>
<text transform="translate(186.19,709.23) rotate(-90)" class="xl" textLength="29.06" lengthAdjust="spacingAndGlyphs">C10</text>
<text transform="translate(207.11,709.23) rotate(-90)" class="xl" textLength="29.31" lengthAdjust="spacingAndGlyphs">C12</text>
<text transform="translate(228.03,709.22) rotate(-90)" class="xl" textLength="28.94" lengthAdjust="spacingAndGlyphs">C14</text>
<text transform="translate(248.96,709.23) rotate(-90)" class="xl" textLength="29.18" lengthAdjust="spacingAndGlyphs">C16</text>
<text transform="translate(269.88,709.23) rotate(-90)" class="xl" textLength="29.18" lengthAdjust="spacingAndGlyphs">C18</text>
<text transform="translate(290.8,709.23) rotate(-90)" class="xl" textLength="29.06" lengthAdjust="spacingAndGlyphs">C20</text>
<text transform="translate(311.72,709.23) rotate(-90)" class="xl" textLength="29.31" lengthAdjust="spacingAndGlyphs">C22</text>
<text transform="translate(332.64,709.22) rotate(-90)" class="xl" textLength="28.94" lengthAdjust="spacingAndGlyphs">C24</text>
<text transform="translate(353.56,709.23) rotate(-90)" class="xl" textLength="29.18" lengthAdjust="spacingAndGlyphs">C26</text>
<text transform="translate(374.49,709.23) rotate(-90)" class="xl" textLength="29.18" lengthAdjust="spacingAndGlyphs">C28</text>
<text transform="translate(395.41,709.23) rotate(-90)" class="xl" textLength="29.06" lengthAdjust="spacingAndGlyphs">C30</text>
<text transform="translate(416.33,709.23) rotate(-90)" class="xl" textLength="29.31" lengthAdjust="spacingAndGlyphs">C32</text>
<text transform="translate(437.25,709.22) rotate(-90)" class="xl" textLength="28.94" lengthAdjust="spacingAndGlyphs">C34</text>
<text transform="translate(458.17,709.23) rotate(-90)" class="xl" textLength="29.18" lengthAdjust="spacingAndGlyphs">C36</text>
<text transform="translate(479.09,709.23) rotate(-90)" class="xl" textLength="29.18" lengthAdjust="spacingAndGlyphs">C38</text>
<text transform="translate(500.02,709.23) rotate(-90)" class="xl" textLength="29.06" lengthAdjust="spacingAndGlyphs">C40</text>
<rect x="132.2" y="730.9" width="9.7" height="9.7" fill="#4f6689"/>
<text x="147.55" y="740.4" class="lg" textLength="19.39" lengthAdjust="spacingAndGlyphs">SD</text>
<rect x="184.2" y="730.9" width="9.7" height="9.7" fill="#a33546"/>
<text x="199.67" y="740.4" class="lg" textLength="24.07" lengthAdjust="spacingAndGlyphs">MR</text>
<rect x="238.7" y="730.9" width="9.7" height="9.7" fill="#79a85b"/>
<text x="253.39" y="740.4" class="lg" textLength="19.56" lengthAdjust="spacingAndGlyphs">PR</text>
<rect x="289.3" y="730.9" width="9.7" height="9.7" fill="#6b4868"/>
<text x="304.89" y="740.4" class="lg" textLength="39.34" lengthAdjust="spacingAndGlyphs">VGPR</text>
<rect x="363.6" y="730.9" width="9.7" height="9.7" fill="#74a7d6"/>
<text x="379.03" y="740.4" class="lg" textLength="20.42" lengthAdjust="spacingAndGlyphs">CR</text>
<rect x="416.5" y="730.9" width="9.7" height="9.7" fill="#d6963f"/>
<text x="431.87" y="740.4" class="lg" textLength="26.66" lengthAdjust="spacingAndGlyphs">sCR</text>
<rect x="93.78" y="963.69" width="6.5" height="91.31" fill="#4f6689"/>
<rect x="93.78" y="916.65" width="6.5" height="47.04" fill="#a33546"/>
<rect x="93.78" y="851.01" width="6.5" height="65.64" fill="#79a85b"/>
<rect x="93.78" y="844.45" width="6.5" height="6.56" fill="#6b4868"/>
<rect x="93.78" y="838.76" width="6.5" height="5.69" fill="#74a7d6"/>
<rect x="93.78" y="834.6" width="6.5" height="4.16" fill="#d6963f"/>
<rect x="104.24" y="989.95" width="6.5" height="65.05" fill="#4f6689"/>
<rect x="104.24" y="963.69" width="6.5" height="26.26" fill="#a33546"/>
<rect x="104.24" y="858.89" width="6.5" height="104.81" fill="#79a85b"/>
<rect x="104.24" y="845.54" width="6.5" height="13.35" fill="#6b4868"/>
<rect x="104.24" y="838.76" width="6.5" height="6.78" fill="#74a7d6"/>
<rect x="104.24" y="834.6" width="6.5" height="4.16" fill="#d6963f"/>
<rect x="114.7" y="1005.92" width="6.5" height="49.08" fill="#4f6689"/>
<rect x="114.7" y="985.79" width="6.5" height="20.13" fill="#a33546"/>
<rect x="114.7" y="875.73" width="6.5" height="110.06" fill="#79a85b"/>
<rect x="114.7" y="847.73" width="6.5" height="28.01" fill="#6b4868"/>
<rect x="114.7" y="839.41" width="6.5" height="8.31" fill="#74a7d6"/>
<rect x="114.7" y="834.6" width="6.5" height="4.81" fill="#d6963f"/>
<rect x="125.16" y="1013.36" width="6.5" height="41.64" fill="#4f6689"/>
<rect x="125.16" y="994.98" width="6.5" height="18.38" fill="#a33546"/>
<rect x="125.16" y="894.33" width="6.5" height="100.65" fill="#79a85b"/>
<rect x="125.16" y="849.26" width="6.5" height="45.07" fill="#6b4868"/>
<rect x="125.16" y="839.85" width="6.5" height="9.41" fill="#74a7d6"/>
<rect x="125.16" y="834.6" width="6.5" height="5.25" fill="#d6963f"/>
<rect x="135.62" y="1028.46" width="6.5" height="26.54" fill="#4f6689"/>
<rect x="135.62" y="1008.55" width="6.5" height="19.91" fill="#a33546"/>
<rect x="135.62" y="901.77" width="6.5" height="106.77" fill="#79a85b"/>
<rect x="135.62" y="856.04" width="6.5" height="45.73" fill="#6b4868"/>
<rect x="135.62" y="850.79" width="6.5" height="5.25" fill="#74a7d6"/>
<rect x="135.62" y="834.6" width="6.5" height="16.19" fill="#d6963f"/>
<rect x="146.08" y="1035.02" width="6.5" height="19.98" fill="#4f6689"/>
<rect x="146.08" y="1017.08" width="6.5" height="17.94" fill="#a33546"/>
<rect x="146.08" y="910.3" width="6.5" height="106.77" fill="#79a85b"/>
<rect x="146.08" y="866.98" width="6.5" height="43.32" fill="#6b4868"/>
<rect x="146.08" y="861.07" width="6.5" height="5.91" fill="#74a7d6"/>
<rect x="146.08" y="834.6" width="6.5" height="26.47" fill="#d6963f"/>
<rect x="156.54" y="1041.37" width="6.5" height="13.63" fill="#4f6689"/>
<rect x="156.54" y="1028.46" width="6.5" height="12.91" fill="#a33546"/>
<rect x="156.54" y="919.06" width="6.5" height="109.4" fill="#79a85b"/>
<rect x="156.54" y="867.2" width="6.5" height="51.86" fill="#6b4868"/>
<rect x="156.54" y="861.51" width="6.5" height="5.69" fill="#74a7d6"/>
<rect x="156.54" y="834.6" width="6.5" height="26.91" fill="#d6963f"/>
<rect x="167.01" y="1046.4" width="6.5" height="8.6" fill="#4f6689"/>
<rect x="167.01" y="1031.96" width="6.5" height="14.44" fill="#a33546"/>
<rect x="167.01" y="925.4" width="6.5" height="106.56" fill="#79a85b"/>
<rect x="167.01" y="865.89" width="6.5" height="59.51" fill="#6b4868"/>
<rect x="167.01" y="834.6" width="6.5" height="31.29" fill="#d6963f"/>
<rect x="177.47" y="1044.65" width="6.5" height="10.35" fill="#4f6689"/>
<rect x="177.47" y="1035.46" width="6.5" height="9.19" fill="#a33546"/>
<rect x="177.47" y="930.87" width="6.5" height="104.59" fill="#79a85b"/>
<rect x="177.47" y="873.11" width="6.5" height="57.76" fill="#6b4868"/>
<rect x="177.47" y="834.6" width="6.5" height="38.51" fill="#d6963f"/>
<rect x="187.93" y="1042.9" width="6.5" height="12.1" fill="#4f6689"/>
<rect x="187.93" y="1032.61" width="6.5" height="10.28" fill="#a33546"/>
<rect x="187.93" y="922.78" width="6.5" height="109.84" fill="#79a85b"/>
<rect x="187.93" y="878.8" width="6.5" height="43.98" fill="#6b4868"/>
<rect x="187.93" y="834.6" width="6.5" height="44.2" fill="#d6963f"/>
<rect x="198.39" y="1042.24" width="6.5" height="12.76" fill="#4f6689"/>
<rect x="198.39" y="1017.95" width="6.5" height="24.29" fill="#a33546"/>
<rect x="198.39" y="920.59" width="6.5" height="97.37" fill="#79a85b"/>
<rect x="198.39" y="884.71" width="6.5" height="35.88" fill="#6b4868"/>
<rect x="198.39" y="834.6" width="6.5" height="50.11" fill="#d6963f"/>
<rect x="208.85" y="1041.37" width="6.5" height="13.63" fill="#4f6689"/>
<rect x="208.85" y="1015.99" width="6.5" height="25.38" fill="#a33546"/>
<rect x="208.85" y="912.71" width="6.5" height="103.27" fill="#79a85b"/>
<rect x="208.85" y="874.2" width="6.5" height="38.51" fill="#6b4868"/>
<rect x="208.85" y="834.6" width="6.5" height="39.6" fill="#d6963f"/>
<rect x="219.31" y="1028.68" width="6.5" height="26.32" fill="#4f6689"/>
<rect x="219.31" y="1015.99" width="6.5" height="12.69" fill="#a33546"/>
<rect x="219.31" y="925.18" width="6.5" height="90.8" fill="#79a85b"/>
<rect x="219.31" y="874.2" width="6.5" height="50.98" fill="#6b4868"/>
<rect x="219.31" y="834.6" width="6.5" height="39.6" fill="#d6963f"/>
<rect x="229.77" y="1037.65" width="6.5" height="17.35" fill="#4f6689"/>
<rect x="229.77" y="919.49" width="6.5" height="118.15" fill="#79a85b"/>
<rect x="229.77" y="886.02" width="6.5" height="33.48" fill="#6b4868"/>
<rect x="229.77" y="834.6" width="6.5" height="51.42" fill="#d6963f"/>
<rect x="240.23" y="1032.4" width="6.5" height="22.6" fill="#4f6689"/>
<rect x="240.23" y="901.55" width="6.5" height="130.84" fill="#79a85b"/>
<rect x="240.23" y="878.8" width="6.5" height="22.76" fill="#6b4868"/>
<rect x="240.23" y="834.6" width="6.5" height="44.2" fill="#d6963f"/>
<rect x="250.69" y="1029.55" width="6.5" height="25.45" fill="#4f6689"/>
<rect x="250.69" y="884.71" width="6.5" height="144.85" fill="#79a85b"/>
<rect x="250.69" y="860.2" width="6.5" height="24.51" fill="#6b4868"/>
<rect x="250.69" y="834.6" width="6.5" height="25.6" fill="#d6963f"/>
<rect x="261.15" y="1029.55" width="6.5" height="25.45" fill="#4f6689"/>
<rect x="261.15" y="884.71" width="6.5" height="144.85" fill="#79a85b"/>
<rect x="261.15" y="860.2" width="6.5" height="24.51" fill="#6b4868"/>
<rect x="261.15" y="834.6" width="6.5" height="25.6" fill="#d6963f"/>
<rect x="271.61" y="1026.71" width="6.5" height="28.29" fill="#4f6689"/>
<rect x="271.61" y="890.61" width="6.5" height="136.09" fill="#79a85b"/>
<rect x="271.61" y="834.6" width="6.5" height="56.01" fill="#d6963f"/>
<rect x="282.07" y="908.07" width="6.5" height="146.93" fill="#79a85b"/>
<rect x="282.07" y="834.6" width="6.5" height="73.47" fill="#d6963f"/>
<rect x="292.54" y="908.07" width="6.5" height="146.93" fill="#79a85b"/>
<rect x="292.54" y="834.6" width="6.5" height="73.47" fill="#d6963f"/>
<rect x="303" y="908.07" width="6.5" height="146.93" fill="#79a85b"/>
<rect x="303" y="834.6" width="6.5" height="73.47" fill="#d6963f"/>
<rect x="313.46" y="908.07" width="6.5" height="146.93" fill="#79a85b"/>
<rect x="313.46" y="834.6" width="6.5" height="73.47" fill="#d6963f"/>
<rect x="323.92" y="908.07" width="6.5" height="146.93" fill="#79a85b"/>
<rect x="323.92" y="834.6" width="6.5" height="73.47" fill="#d6963f"/>
<rect x="334.38" y="922.76" width="6.5" height="132.24" fill="#79a85b"/>
<rect x="334.38" y="834.6" width="6.5" height="88.16" fill="#d6963f"/>
<rect x="344.84" y="922.76" width="6.5" height="132.24" fill="#79a85b"/>
<rect x="344.84" y="834.6" width="6.5" height="88.16" fill="#d6963f"/>
<rect x="355.3" y="922.76" width="6.5" height="132.24" fill="#79a85b"/>
<rect x="355.3" y="834.6" width="6.5" height="88.16" fill="#d6963f"/>
<rect x="365.76" y="922.76" width="6.5" height="132.24" fill="#79a85b"/>
<rect x="365.76" y="834.6" width="6.5" height="88.16" fill="#d6963f"/>
<rect x="376.22" y="922.76" width="6.5" height="132.24" fill="#79a85b"/>
<rect x="376.22" y="834.6" width="6.5" height="88.16" fill="#d6963f"/>
<rect x="386.68" y="922.76" width="6.5" height="132.24" fill="#79a85b"/>
<rect x="386.68" y="834.6" width="6.5" height="88.16" fill="#d6963f"/>
<rect x="397.14" y="922.76" width="6.5" height="132.24" fill="#79a85b"/>
<rect x="397.14" y="834.6" width="6.5" height="88.16" fill="#d6963f"/>
<rect x="407.6" y="944.8" width="6.5" height="110.2" fill="#79a85b"/>
<rect x="407.6" y="834.6" width="6.5" height="110.2" fill="#d6963f"/>
<rect x="418.06" y="944.8" width="6.5" height="110.2" fill="#79a85b"/>
<rect x="418.06" y="834.6" width="6.5" height="110.2" fill="#d6963f"/>
<rect x="428.53" y="944.8" width="6.5" height="110.2" fill="#79a85b"/>
<rect x="428.53" y="834.6" width="6.5" height="110.2" fill="#d6963f"/>
<rect x="438.99" y="944.8" width="6.5" height="110.2" fill="#79a85b"/>
<rect x="438.99" y="834.6" width="6.5" height="110.2" fill="#d6963f"/>
<rect x="449.45" y="944.8" width="6.5" height="110.2" fill="#79a85b"/>
<rect x="449.45" y="834.6" width="6.5" height="110.2" fill="#d6963f"/>
<rect x="459.91" y="944.8" width="6.5" height="110.2" fill="#79a85b"/>
<rect x="459.91" y="834.6" width="6.5" height="110.2" fill="#d6963f"/>
<rect x="470.37" y="908.07" width="6.5" height="146.93" fill="#79a85b"/>
<rect x="470.37" y="834.6" width="6.5" height="73.47" fill="#d6963f"/>
<rect x="480.83" y="908.07" width="6.5" height="146.93" fill="#79a85b"/>
<rect x="480.83" y="834.6" width="6.5" height="73.47" fill="#d6963f"/>
<rect x="491.29" y="944.8" width="6.5" height="110.2" fill="#79a85b"/>
<rect x="491.29" y="834.6" width="6.5" height="110.2" fill="#d6963f"/>
<rect x="91" y="828" width="2" height="227" fill="#000"/>
<rect x="91" y="1053" width="413.6" height="2" fill="#000"/>
<rect x="84.8" y="1052.7" width="6.5" height="1.6" fill="#000"/>
<text x="55.2" y="1058.9" class="yl" textLength="23.66" lengthAdjust="spacingAndGlyphs">0%</text>
<rect x="84.8" y="1030.86" width="6.5" height="1.6" fill="#000"/>
<text x="46.09" y="1037.06" class="yl" textLength="32.84" lengthAdjust="spacingAndGlyphs">10%</text>
<rect x="84.8" y="1009.02" width="6.5" height="1.6" fill="#000"/>
<text x="46.47" y="1015.22" class="yl" textLength="32.46" lengthAdjust="spacingAndGlyphs">20%</text>
<rect x="84.8" y="987.18" width="6.5" height="1.6" fill="#000"/>
<text x="46.71" y="993.38" class="yl" textLength="32.21" lengthAdjust="spacingAndGlyphs">30%</text>
<rect x="84.8" y="965.34" width="6.5" height="1.6" fill="#000"/>
<text x="46.95" y="971.54" class="yl" textLength="31.97" lengthAdjust="spacingAndGlyphs">40%</text>
<rect x="84.8" y="943.5" width="6.5" height="1.6" fill="#000"/>
<text x="46.59" y="949.7" class="yl" textLength="32.34" lengthAdjust="spacingAndGlyphs">50%</text>
<rect x="84.8" y="921.66" width="6.5" height="1.6" fill="#000"/>
<text x="46.47" y="927.86" class="yl" textLength="32.46" lengthAdjust="spacingAndGlyphs">60%</text>
<rect x="84.8" y="899.82" width="6.5" height="1.6" fill="#000"/>
<text x="46.47" y="906.02" class="yl" textLength="32.46" lengthAdjust="spacingAndGlyphs">70%</text>
<rect x="84.8" y="877.98" width="6.5" height="1.6" fill="#000"/>
<text x="46.59" y="884.18" class="yl" textLength="32.34" lengthAdjust="spacingAndGlyphs">80%</text>
<rect x="84.8" y="856.14" width="6.5" height="1.6" fill="#000"/>
<text x="46.59" y="862.34" class="yl" textLength="32.34" lengthAdjust="spacingAndGlyphs">90%</text>
<rect x="84.8" y="834.3" width="6.5" height="1.6" fill="#000"/>
<text x="37.51" y="840.5" class="yl" textLength="41.37" lengthAdjust="spacingAndGlyphs">100%</text>
<text transform="translate(102.5,1081.18) rotate(-90)" class="xl" textLength="19.23" lengthAdjust="spacingAndGlyphs">C2</text>
<text transform="translate(123.43,1081.17) rotate(-90)" class="xl" textLength="18.87" lengthAdjust="spacingAndGlyphs">C4</text>
<text transform="translate(144.35,1081.18) rotate(-90)" class="xl" textLength="19.11" lengthAdjust="spacingAndGlyphs">C6</text>
<text transform="translate(165.27,1081.18) rotate(-90)" class="xl" textLength="19.11" lengthAdjust="spacingAndGlyphs">C8</text>
<text transform="translate(186.19,1091.13) rotate(-90)" class="xl" textLength="29.06" lengthAdjust="spacingAndGlyphs">C10</text>
<text transform="translate(207.11,1091.13) rotate(-90)" class="xl" textLength="29.31" lengthAdjust="spacingAndGlyphs">C12</text>
<text transform="translate(228.03,1091.12) rotate(-90)" class="xl" textLength="28.94" lengthAdjust="spacingAndGlyphs">C14</text>
<text transform="translate(248.96,1091.13) rotate(-90)" class="xl" textLength="29.18" lengthAdjust="spacingAndGlyphs">C16</text>
<text transform="translate(269.88,1091.13) rotate(-90)" class="xl" textLength="29.18" lengthAdjust="spacingAndGlyphs">C18</text>
<text transform="translate(290.8,1091.13) rotate(-90)" class="xl" textLength="29.06" lengthAdjust="spacingAndGlyphs">C20</text>
<text transform="translate(311.72,1091.13) rotate(-90)" class="xl" textLength="29.31" lengthAdjust="spacingAndGlyphs">C22</text>
<text transform="translate(332.64,1091.12) rotate(-90)" class="xl" textLength="28.94" lengthAdjust="spacingAndGlyphs">C24</text>
<text transform="translate(353.56,1091.13) rotate(-90)" class="xl" textLength="29.18" lengthAdjust="spacingAndGlyphs">C26</text>
<text transform="translate(374.49,1091.13) rotate(-90)" class="xl" textLength="29.18" lengthAdjust="spacingAndGlyphs">C28</text>
<text transform="translate(395.41,1091.13) rotate(-90)" class="xl" textLength="29.06" lengthAdjust="spacingAndGlyphs">C30</text>
<text transform="translate(416.33,1091.13) rotate(-90)" class="xl" textLength="29.31" lengthAdjust="spacingAndGlyphs">C32</text>
<text transform="translate(437.25,1091.12) rotate(-90)" class="xl" textLength="28.94" lengthAdjust="spacingAndGlyphs">C34</text>
<text transform="translate(458.17,1091.13) rotate(-90)" class="xl" textLength="29.18" lengthAdjust="spacingAndGlyphs">C36</text>
<text transform="translate(479.09,1091.13) rotate(-90)" class="xl" textLength="29.18" lengthAdjust="spacingAndGlyphs">C38</text>
<text transform="translate(500.02,1091.13) rotate(-90)" class="xl" textLength="29.06" lengthAdjust="spacingAndGlyphs">C40</text>
<rect x="130.2" y="1113.3" width="9.7" height="9.7" fill="#4f6689"/>
<text x="145.45" y="1123" class="lg" textLength="19.39" lengthAdjust="spacingAndGlyphs">SD</text>
<rect x="182.1" y="1113.3" width="9.7" height="9.7" fill="#a33546"/>
<text x="197.67" y="1123" class="lg" textLength="24.07" lengthAdjust="spacingAndGlyphs">MR</text>
<rect x="236.2" y="1113.3" width="9.7" height="9.7" fill="#79a85b"/>
<text x="251.69" y="1123" class="lg" textLength="19.56" lengthAdjust="spacingAndGlyphs">PR</text>
<rect x="286.7" y="1113.3" width="9.7" height="9.7" fill="#6b4868"/>
<text x="302.99" y="1123" class="lg" textLength="39.34" lengthAdjust="spacingAndGlyphs">VGPR</text>
<rect x="361.2" y="1113.3" width="9.7" height="9.7" fill="#74a7d6"/>
<text x="376.53" y="1123" class="lg" textLength="20.42" lengthAdjust="spacingAndGlyphs">CR</text>
<rect x="414.2" y="1113.3" width="9.7" height="9.7" fill="#d6963f"/>
<text x="429.77" y="1123" class="lg" textLength="26.66" lengthAdjust="spacingAndGlyphs">sCR</text>
</svg>
</body></html>
